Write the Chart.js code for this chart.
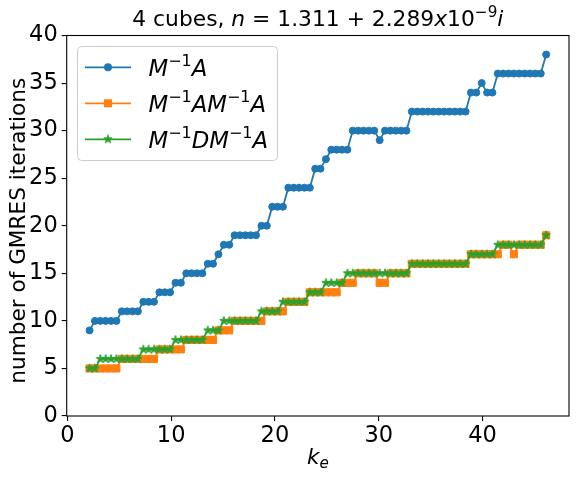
<!DOCTYPE html>
<html>
<head>
<meta charset="utf-8">
<script src="https://cdn.jsdelivr.net/npm/chart.js@4"></script>
<style>
  html, body { margin: 0; padding: 0; background: #fff; }
  #wrap { width: 579px; height: 477px; }
</style>
</head>
<body>
<div id="wrap"><canvas id="chart" width="579" height="477"></canvas></div>
<script>
'use strict';

// ── Data ──────────────────────────────────────────────────────
const kE = [
  2.14, 2.66, 3.18, 3.69, 4.21, 4.73, 5.25, 5.76, 6.28, 6.80, 7.32, 7.83, 8.35, 8.87, 9.39,
  9.90, 10.42, 10.94, 11.46, 11.97, 12.49, 13.01, 13.53, 14.04, 14.56, 15.08, 15.60, 16.11,
  16.63, 17.15, 17.67, 18.18, 18.70, 19.22, 19.74, 20.25, 20.77, 21.29, 21.81, 22.32, 22.84,
  23.36, 23.88, 24.39, 24.91, 25.43, 25.95, 26.46, 26.98, 27.50, 28.02, 28.53, 29.05, 29.57,
  30.09, 30.60, 31.12, 31.64, 32.16, 32.67, 33.19, 33.71, 34.23, 34.74, 35.26, 35.78, 36.30,
  36.81, 37.33, 37.85, 38.37, 38.88, 39.40, 39.92, 40.44, 40.95, 41.47, 41.99, 42.51, 43.02,
  43.54, 44.06, 44.58, 45.09, 45.61, 46.13
];
const itersMA = [
  9, 10, 10, 10, 10, 10, 11, 11, 11, 11, 12, 12, 12, 13, 13, 13, 14, 14, 15, 15,
  15, 15, 16, 16, 17, 18, 18, 19, 19, 19, 19, 19, 20, 20, 22, 22, 22, 24, 24, 24,
  24, 24, 26, 26, 27, 28, 28, 28, 28, 30, 30, 30, 30, 30, 29, 30, 30, 30, 30, 30,
  32, 32, 32, 32, 32, 32, 32, 32, 32, 32, 32, 34, 34, 35, 34, 34, 36, 36, 36, 36,
  36, 36, 36, 36, 36, 38
];
const itersMAMA = [
  5, 5, 5, 5, 5, 5, 6, 6, 6, 6, 6, 6, 6, 7, 7, 7, 7, 7, 8, 8,
  8, 8, 8, 8, 9, 9, 9, 10, 10, 10, 10, 10, 10, 11, 11, 11, 11, 12, 12, 12,
  12, 13, 13, 13, 13, 13, 13, 14, 14, 14, 15, 15, 15, 15, 14, 14, 15, 15, 15, 15,
  16, 16, 16, 16, 16, 16, 16, 16, 16, 16, 16, 17, 17, 17, 17, 17, 17, 18, 18, 17,
  18, 18, 18, 18, 18, 19
];
const itersMDMA = [
  5, 5, 6, 6, 6, 6, 6, 6, 6, 6, 7, 7, 7, 7, 7, 7, 8, 8, 8, 8,
  8, 8, 9, 9, 9, 10, 10, 10, 10, 10, 10, 10, 11, 11, 11, 11, 12, 12, 12, 12,
  12, 13, 13, 13, 14, 14, 14, 14, 15, 15, 15, 15, 15, 15, 15, 15, 15, 15, 15, 15,
  16, 16, 16, 16, 16, 16, 16, 16, 16, 16, 16, 17, 17, 17, 17, 17, 18, 18, 18, 18,
  18, 18, 18, 18, 18, 19
];
const xTicks = [0, 10, 20, 30, 40];
const yTicks = [0, 5, 10, 15, 20, 25, 30, 35, 40];

// rich-text pieces: [text, kind]  kind: n normal, i italic, sup superscript, sub subscript
const titleParts = [['4 cubes, ', 'n'], ['n', 'i'], [' = 1.311 + 2.289', 'n'], ['x', 'i'],
  ['10', 'n'], ['\u22129', 'sup'], ['i', 'i']];
const legendParts = [
  [['M', 'i'], ['\u22121', 'sup'], ['A', 'i']],
  [['M', 'i'], ['\u22121', 'sup'], ['A', 'i'], ['M', 'i'], ['\u22121', 'sup'], ['A', 'i']],
  [['M', 'i'], ['\u22121', 'sup'], ['D', 'i'], ['M', 'i'], ['\u22121', 'sup'], ['A', 'i']]
];
const xLabelParts = [['k', 'i'], ['e', 'sub']];
const yLabel = 'number of GMRES iterations';

// ── Style ─────────────────────────────────────────────────────
const FONT = '"DejaVu Sans", sans-serif';
const TICK_FS = 22.5;
const LABEL_FS = 21.6;
const TITLE_FS = 21.8;
const LEGEND_FS = 22.8;
const BLUE = '#1f77b4', ORANGE = '#ff7f0e', GREEN = '#2ca02c';

// ── Helpers ───────────────────────────────────────────────────
function partFont(kind, size) {
  const s = (kind === 'sup' || kind === 'sub') ? size * 0.7 : size;
  const st = (kind === 'i' || kind === 'sub') ? 'italic ' : '';
  return `${st}${s}px ${FONT}`;
}
function richWidth(ctx, parts, size) {
  let w = 0;
  parts.forEach(([t, k]) => { ctx.font = partFont(k, size); w += ctx.measureText(t).width; });
  return w;
}
function drawRich(ctx, parts, x, y, size, align) {
  let cx = align === 'center' ? x - richWidth(ctx, parts, size) / 2 : x;
  ctx.textAlign = 'left';
  ctx.textBaseline = 'alphabetic';
  parts.forEach(([t, k]) => {
    ctx.font = partFont(k, size);
    const dy = k === 'sup' ? -size * 0.42 : k === 'sub' ? size * 0.2 : 0;
    ctx.fillText(t, cx, y + dy);
    cx += ctx.measureText(t).width;
  });
}
function makeStar(r, color) {
  const c = document.createElement('canvas');
  const s = Math.ceil(r * 2 + 3);
  c.width = s; c.height = s;
  const g = c.getContext('2d');
  g.beginPath();
  for (let i = 0; i < 10; i++) {
    const rr = i % 2 ? r * 0.382 : r;
    const a = -Math.PI / 2 + i * Math.PI / 5;
    g.lineTo(s / 2 + rr * Math.cos(a), s / 2 + rr * Math.sin(a));
  }
  g.closePath();
  g.fillStyle = color; g.fill();
  g.strokeStyle = color; g.lineWidth = 1; g.stroke();
  return c;
}
const starImg = makeStar(4.4, GREEN);
const pts = (ys) => ys.map((y, i) => ({ x: kE[i], y }));

// ── Decorations plugin ────────────────────────────────────────
const decor = {
  id: 'decor',
  afterDraw(chart) {
    const ctx = chart.ctx;
    const a = chart.chartArea;
    ctx.save();
    // spines
    ctx.strokeStyle = '#000';
    ctx.lineWidth = 1.1;
    ctx.strokeRect(a.left, a.top, a.right - a.left, a.bottom - a.top);

    ctx.fillStyle = '#000';
    const cx = (a.left + a.right) / 2;
    drawRich(ctx, titleParts, cx, 26, TITLE_FS, 'center');
    drawRich(ctx, xLabelParts, cx, 464, LABEL_FS, 'center');

    ctx.save();
    ctx.translate(19, (a.top + a.bottom) / 2 + 5);
    ctx.rotate(-Math.PI / 2);
    ctx.font = `${LABEL_FS}px ${FONT}`;
    ctx.textAlign = 'center';
    ctx.textBaseline = 'middle';
    ctx.fillText(yLabel, 0, 0);
    ctx.restore();

    // legend
    const lx = 77.5, ly = 46.5, lw = 200, lh = 114;
    ctx.beginPath();
    ctx.roundRect(lx, ly, lw, lh, 4);
    ctx.fillStyle = 'rgba(255,255,255,0.8)';
    ctx.fill();
    ctx.strokeStyle = '#cccccc';
    ctx.lineWidth = 1;
    ctx.stroke();
    const colors = [BLUE, ORANGE, GREEN];
    legendParts.forEach((parts, i) => {
      const ry = 67.3 + i * 36;
      ctx.strokeStyle = colors[i];
      ctx.lineWidth = 1.8;
      ctx.beginPath(); ctx.moveTo(85, ry); ctx.lineTo(131, ry); ctx.stroke();
      ctx.fillStyle = colors[i];
      if (i === 0) { ctx.beginPath(); ctx.arc(108, ry, 4, 0, Math.PI * 2); ctx.fill(); }
      else if (i === 1) { ctx.fillRect(104, ry - 4, 8, 8); }
      else { ctx.drawImage(starImg, 108 - starImg.width / 2, ry - starImg.height / 2); }
      ctx.fillStyle = '#000';
      drawRich(ctx, parts, 148.5, ry + 8.2, LEGEND_FS, 'left');
    });
    ctx.restore();
  }
};

// ── Chart ─────────────────────────────────────────────────────
const tickFont = { family: FONT, size: TICK_FS };
new Chart(document.getElementById('chart'), {
  type: 'line',
  data: {
    datasets: [
      { data: pts(itersMA), order: 3, borderColor: BLUE, backgroundColor: BLUE, borderWidth: 1.8,
        pointRadius: 3.5, pointBorderWidth: 1, pointBorderColor: BLUE, pointStyle: 'circle' },
      { data: pts(itersMAMA), order: 2, borderColor: ORANGE, backgroundColor: ORANGE, borderWidth: 1.8,
        pointRadius: 5, pointBorderWidth: 1, pointBorderColor: ORANGE, pointStyle: 'rect' },
      { data: pts(itersMDMA), order: 1, borderColor: GREEN, backgroundColor: GREEN, borderWidth: 1.8,
        pointRadius: 4.5, pointStyle: starImg }
    ]
  },
  options: {
    responsive: false,
    animation: false,
    devicePixelRatio: 1,
    layout: { padding: { top: 35.5, right: 10, bottom: 0, left: 0 } },
    plugins: { legend: { display: false }, tooltip: { enabled: false }, title: { display: false } },
    scales: {
      x: {
        type: 'linear', min: -0.06, max: 48.33,
        afterBuildTicks: (s) => { s.ticks = xTicks.map(v => ({ value: v })); },
        afterFit: (s) => { s.height = 61; },
        border: { display: false },
        grid: { drawOnChartArea: false, drawTicks: true, tickLength: 5, color: '#000', lineWidth: 1.1 },
        ticks: { font: tickFont, color: '#000', padding: 2, maxRotation: 0 }
      },
      y: {
        min: 0, max: 40,
        afterBuildTicks: (s) => { s.ticks = yTicks.map(v => ({ value: v })); },
        afterFit: (s) => { s.width = 66.7; },
        border: { display: false },
        grid: { drawOnChartArea: false, drawTicks: true, tickLength: 5, color: '#000', lineWidth: 1.1 },
        ticks: { font: tickFont, color: '#000', padding: 4 }
      }
    }
  },
  plugins: [decor]
});
</script>
</body>
</html>
